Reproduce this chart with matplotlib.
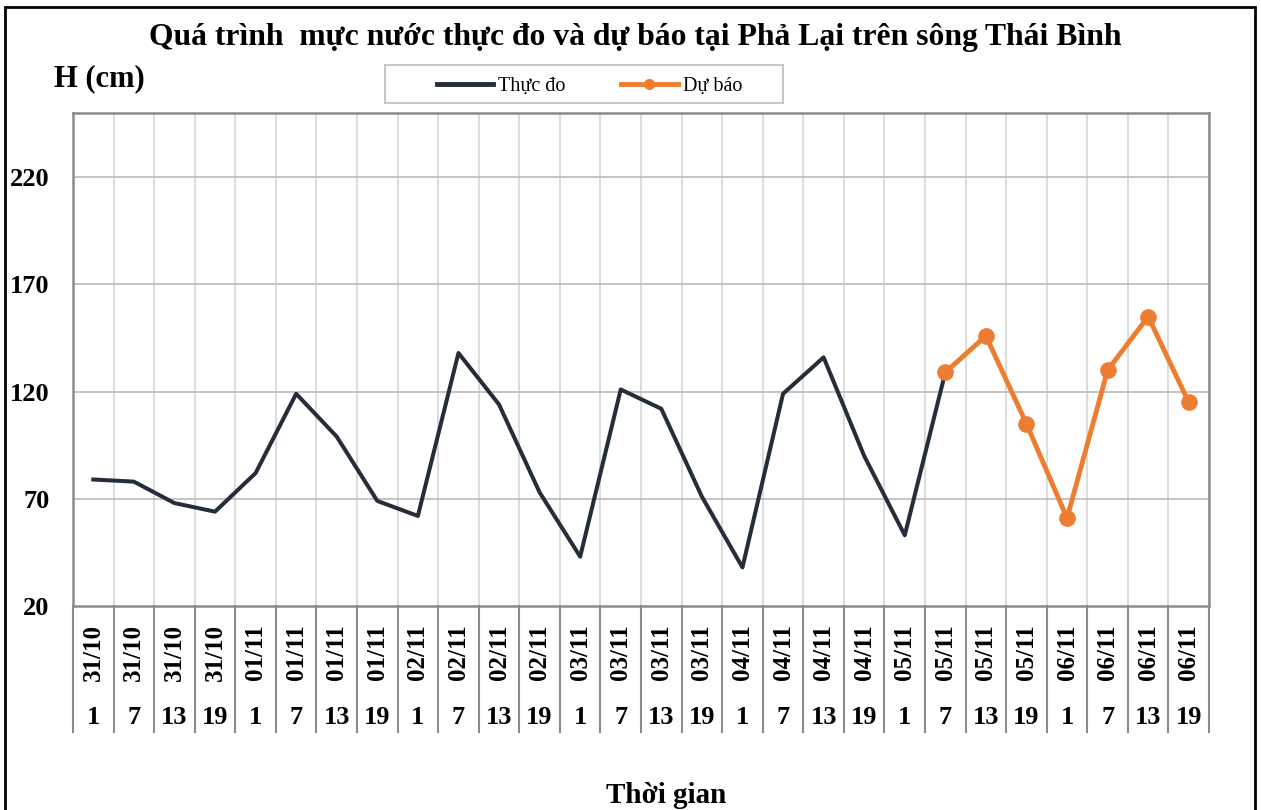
import matplotlib.pyplot as plt
from matplotlib.patches import Rectangle
from matplotlib.lines import Line2D

plt.rcParams['font.family'] = ['Liberation Serif', 'DejaVu Serif']

dates = ['31/10'] * 4 + ['01/11'] * 4 + ['02/11'] * 4 + ['03/11'] * 4 + \
        ['04/11'] * 4 + ['05/11'] * 4 + ['06/11'] * 4
hours = ['1', '7', '13', '19'] * 7

# observed water level (cm), up to 05/11 7h
observed = [79, 78, 68, 64, 82, 119, 99, 69, 62, 138, 114, 73,
            43, 121, 112, 71, 38, 119, 136, 90, 53, 129]
# forecast from 05/11 7h to 06/11 19h
forecast = [129, 146, 105, 61, 130, 155, 115]

n = len(dates)
x_obs = list(range(len(observed)))
x_fc = list(range(len(observed) - 1, n))

fig = plt.figure(figsize=(12.61, 8.10), dpi=100)
ax = fig.add_axes([0.0579, 0.2519, 0.9009, 0.6086])

ax.plot(x_obs, observed, color='#262d3a', lw=2.9, zorder=3)
ax.plot(x_fc, forecast, color='#ed7d31', lw=3.5, marker='o', ms=11, zorder=4)

ax.set_xlim(-0.5, n - 0.5)
ax.set_ylim(20, 250)
ax.set_yticks([20, 70, 120, 170, 220])
ax.set_yticklabels(['20', '70', '120', '170', '220'], fontsize=19, fontweight='bold')
ax.tick_params(axis='y', length=0, pad=17)

ax.set_xticks([])
for i in range(n + 1):
    ax.axvline(i - 0.5, color='#d9d9d9', lw=1.3, zorder=1)
for yv in [70, 120, 170, 220]:
    ax.axhline(yv, color='#bfbfbf', lw=1.3, zorder=1)
for s in ax.spines.values():
    s.set_color('#8c8c8c')
    s.set_linewidth(1.8)

# two-level category axis below the plot
for i in range(n + 1):
    ax.plot([i - 0.5, i - 0.5], [0, -0.255], transform=ax.get_xaxis_transform(),
            color='#8c8c8c', lw=1.5, clip_on=False)
for i in range(n):
    ax.text(i, -0.094, dates[i], transform=ax.get_xaxis_transform(), rotation=90,
            ha='center', va='center', fontsize=18, fontweight='bold')
    ax.text(i, -0.226, hours[i], transform=ax.get_xaxis_transform(),
            ha='center', va='center', fontsize=19, fontweight='bold')

fig.text(0.504, 0.954, 'Quá trình  mực nước thực đo và dự báo tại Phả Lại trên sông Thái Bình',
         ha='center', va='center', fontsize=22.8, fontweight='bold')
fig.text(0.043, 0.903, 'H (cm)', ha='left', va='center', fontsize=22, fontweight='bold')
fig.text(0.528, 0.018, 'Thời gian', ha='center', va='center', fontsize=21, fontweight='bold')

handles = [Line2D([], [], color='#262d3a', lw=3.5),
           Line2D([], [], color='#ed7d31', lw=3.5, marker='o', ms=7)]
leg = fig.legend(handles, ['Thực đo', 'Dự báo'], loc='center left',
                 bbox_to_anchor=(0.3466, 0.8935), ncol=2, frameon=False,
                 fontsize=14.5, handlelength=2.8, handletextpad=0.25, columnspacing=2.75,
                 borderpad=0, borderaxespad=0)

fig.patches.append(Rectangle((0.3053, 0.8728), 0.3156, 0.0469, transform=fig.transFigure,
                             fill=False, edgecolor='#c8c8c8', lw=1.5))
fig.patches.append(Rectangle((0.004, -0.05), 0.991, 1.041, transform=fig.transFigure,
                             fill=False, edgecolor='black', lw=2))

plt.savefig('out.png', dpi=100)
